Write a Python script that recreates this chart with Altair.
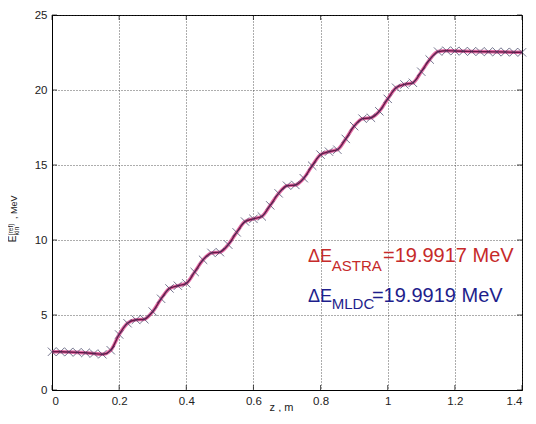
import altair as alt
import pandas as pd

# --- data ---
z_m = [0.000, 0.025, 0.050, 0.075, 0.100, 0.125, 0.150, 0.175, 0.200, 0.225,
       0.250, 0.275, 0.300, 0.325, 0.350, 0.375, 0.400, 0.425, 0.450, 0.475,
       0.500, 0.525, 0.550, 0.575, 0.600, 0.625, 0.650, 0.675, 0.700, 0.725,
       0.750, 0.775, 0.800, 0.825, 0.850, 0.875, 0.900, 0.925, 0.950, 0.975,
       1.000, 1.025, 1.050, 1.075, 1.100, 1.125, 1.150, 1.175, 1.200, 1.225,
       1.250, 1.275, 1.300, 1.325, 1.350, 1.375, 1.400]
energy_astra = [2.55, 2.55, 2.53, 2.51, 2.48, 2.43, 2.38, 2.65, 3.70, 4.45,
                4.68, 4.72, 5.23, 6.08, 6.77, 6.95, 7.11, 7.87, 8.68, 9.14,
                9.19, 9.69, 10.51, 11.23, 11.41, 11.57, 12.31, 13.11, 13.62, 13.67,
                14.12, 14.95, 15.69, 15.89, 16.02, 16.74, 17.59, 18.09, 18.15, 18.58,
                19.41, 20.15, 20.37, 20.48, 21.22, 22.03, 22.56, 22.62, 22.60, 22.58,
                22.57, 22.56, 22.55, 22.54, 22.53, 22.52, 22.51]
energy_mldc = [2.55, 2.55, 2.53, 2.51, 2.48, 2.43, 2.38, 2.65, 3.70, 4.45,
               4.68, 4.72, 5.23, 6.08, 6.77, 6.95, 7.11, 7.87, 8.68, 9.14,
               9.19, 9.69, 10.51, 11.23, 11.41, 11.57, 12.31, 13.11, 13.62, 13.67,
               14.12, 14.95, 15.69, 15.89, 16.02, 16.74, 17.59, 18.09, 18.15, 18.58,
               19.41, 20.15, 20.37, 20.48, 21.22, 22.03, 22.56, 22.62, 22.60, 22.58,
               22.57, 22.56, 22.55, 22.54, 22.53, 22.52, 22.51]
x_ticks = [0, 0.2, 0.4, 0.6, 0.8, 1.0, 1.2, 1.4]
y_ticks = [0, 5, 10, 15, 20, 25]
label_astra = "=19.9917 MeV"
label_mldc = "=19.9919 MeV"

df = pd.DataFrame({"z": z_m, "astra": energy_astra, "mldc": energy_mldc})
xt = pd.DataFrame({"v": x_ticks})
yt = pd.DataFrame({"v": y_ticks})
one = pd.DataFrame({"k": [0]})

FONT = "Liberation Sans"
RED = "#c62a2a"
BLUE = "#1e1e8c"

xs = alt.Scale(domain=[0, 1.4], nice=False, zero=False)
ys = alt.Scale(domain=[0, 25], nice=False)

x_axis = alt.Axis(values=x_ticks, format="~g", grid=True, gridDash=[1, 2],
                  gridColor="#333", gridOpacity=0.8, ticks=False,
                  domainColor="#000", labelPadding=5, labelFontSize=11.5,
                  labelColor="#222", labelFont=FONT,
                  title="z , m", titleFont=FONT, titleFontSize=11,
                  titleFontWeight="normal", titleColor="#222",
                  titleX=229, titleY=20, titleBaseline="alphabetic")
y_axis = alt.Axis(values=y_ticks, grid=True, gridDash=[1, 2], gridColor="#333",
                  gridOpacity=0.8, ticks=False, domainColor="#000",
                  labelPadding=5, labelFontSize=11.5, labelColor="#222",
                  labelFont=FONT, title=None)

base = alt.Chart(df)

astra_line = base.mark_line(color="#d8408a", strokeWidth=3.6, opacity=0.75,
                            interpolate="monotone").encode(
    x=alt.X("z:Q", scale=xs, axis=x_axis),
    y=alt.Y("astra:Q", scale=ys, axis=y_axis),
)
mldc_line = base.mark_line(color="#6a1848", strokeWidth=1.4,
                           interpolate="monotone").encode(
    x=alt.X("z:Q", scale=xs), y=alt.Y("mldc:Q", scale=ys))
mldc_pts = base.mark_point(shape="M-1,-1L1,1M-1,1L1,-1", filled=False,
                           size=70, strokeWidth=1, color="#3a3a5e").encode(
    x=alt.X("z:Q", scale=xs), y=alt.Y("mldc:Q", scale=ys))

# inward ticks (MATLAB style box)
tb = alt.Chart(xt).mark_tick(orient="vertical", size=5, thickness=1,
                             color="#000", yOffset=-2.5).encode(
    x=alt.X("v:Q", scale=xs), y=alt.datum(0, scale=ys))
tt = alt.Chart(xt).mark_tick(orient="vertical", size=5, thickness=1,
                             color="#000", yOffset=2.5).encode(
    x=alt.X("v:Q", scale=xs), y=alt.datum(25, scale=ys))
tl = alt.Chart(yt).mark_tick(orient="horizontal", size=5, thickness=1,
                             color="#000", xOffset=2.5).encode(
    y=alt.Y("v:Q", scale=ys), x=alt.datum(0, scale=xs))
tr = alt.Chart(yt).mark_tick(orient="horizontal", size=5, thickness=1,
                             color="#000", xOffset=-2.5).encode(
    y=alt.Y("v:Q", scale=ys), x=alt.datum(1.4, scale=xs))


def txt(s, x, y, color, size, align="left"):
    return alt.Chart(one).mark_text(text=s, font=FONT, fontSize=size, color=color,
                                    align=align, baseline="alphabetic").encode(
        x=alt.datum(x, scale=xs), y=alt.datum(y, scale=ys))


ann = [
    txt("\u0394E", 0.7626, 8.55, RED, 18),
    txt("ASTRA", 0.8332, 7.93, RED, 15),
    txt(label_astra, 0.986, 8.55, RED, 20),
    txt("\u0394E", 0.7626, 5.89, BLUE, 18),
    txt("MLDC", 0.8332, 5.40, BLUE, 15),
    txt(label_mldc, 0.953, 5.89, BLUE, 20),
]


def ytitle(s, x, y, size, align):
    return alt.Chart(one).mark_text(text=s, font=FONT, fontSize=size, color="#222",
                                    angle=270, align=align,
                                    baseline="alphabetic").encode(
        x=alt.value(x), y=alt.value(y))


ytitles = [
    ytitle("E", -36, 224, 10, "center"),
    ytitle("(ref)", -39.5, 220.5, 6.5, "left"),
    ytitle("kin", -33.5, 220.5, 7, "left"),
    ytitle(",  MeV", -35, 204, 9, "left"),
]

chart = alt.layer(astra_line, mldc_line, mldc_pts, tb, tt, tl, tr,
                  *ann, *ytitles).properties(
    width=470, height=375,
    autosize=alt.AutoSizeParams(type="none"),
    padding={"left": 44, "top": 7, "right": 6, "bottom": 22},
    background="white",
).configure_view(stroke="#000", strokeWidth=1)

chart.save("out.html", embed_options={"renderer": "svg", "actions": False})
